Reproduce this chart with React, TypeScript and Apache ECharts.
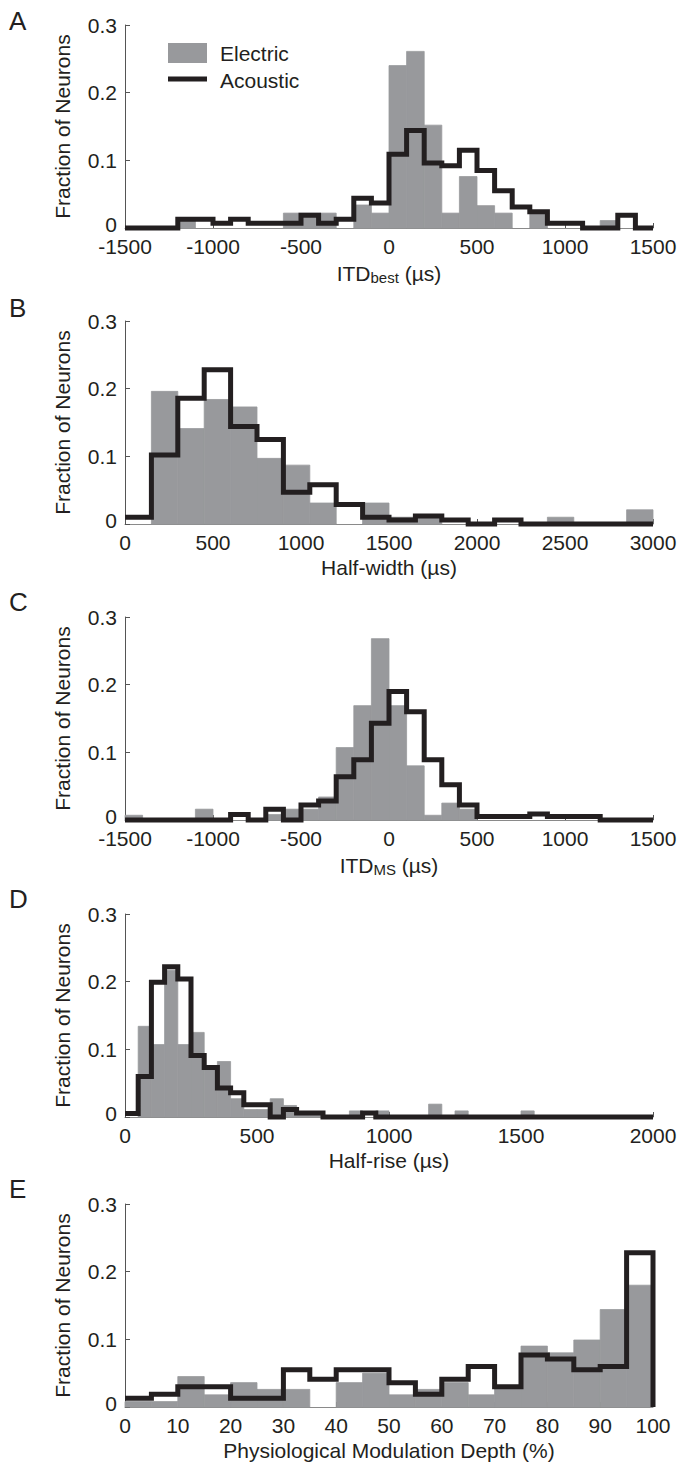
import React, { useEffect, useRef } from "react";
import * as echarts from "echarts";

const FONT = "'Liberation Sans', Arial, Helvetica, sans-serif";
const GRAY = "#98999c";
const BLACK = "#231f20";
const AXIS = "#555555";

// ---- data (fraction of neurons per bin) ----
// A: ITD_best, bins of 100 µs from -1500
const electricA = [0, 0, 0, 0.011, 0, 0, 0, 0, 0, 0.022, 0.022, 0.022, 0, 0.034, 0.022, 0.24, 0.261, 0.152, 0.022, 0.076, 0.033, 0.022, 0, 0.022, 0, 0, 0, 0.011, 0, 0];
const acousticA = [0, 0, 0, 0.013, 0.013, 0.007, 0.013, 0.007, 0.007, 0.007, 0.019, 0.007, 0.013, 0.044, 0.037, 0.109, 0.144, 0.096, 0.092, 0.115, 0.085, 0.055, 0.031, 0.024, 0.007, 0.007, 0, 0, 0.019, 0];
// B: Half-width, bins of 150 µs from 0
const electricB = [0, 0.196, 0.141, 0.184, 0.173, 0.097, 0.087, 0.031, 0, 0.031, 0.01, 0.01, 0, 0, 0, 0, 0.01, 0, 0, 0.021];
const acousticB = [0.01, 0.102, 0.186, 0.228, 0.144, 0.125, 0.047, 0.058, 0.029, 0.01, 0.006, 0.012, 0.006, 0, 0.006, 0, 0, 0, 0, 0];
// C: ITD_MS, bins of 100 µs from -1500
const electricC = [0.007, 0, 0, 0, 0.016, 0, 0, 0, 0.008, 0.016, 0.016, 0.034, 0.107, 0.169, 0.268, 0.169, 0.08, 0.007, 0.025, 0.016, 0, 0, 0, 0, 0, 0, 0, 0, 0, 0];
const acousticC = [0, 0, 0, 0, 0, 0, 0.008, 0, 0.016, 0, 0.022, 0.028, 0.064, 0.089, 0.143, 0.19, 0.16, 0.089, 0.052, 0.022, 0.005, 0.005, 0.005, 0.009, 0.005, 0.005, 0.005, 0, 0, 0];
// D: Half-rise, bins of 50 µs from 0
const electricD = [0, 0.134, 0.107, 0.217, 0.107, 0.125, 0.07, 0.082, 0.027, 0.011, 0.011, 0.027, 0.017, 0.005, 0.005, 0, 0, 0.009, 0, 0.009, 0, 0, 0, 0.019, 0, 0.009, 0, 0, 0, 0, 0.009, 0, 0, 0, 0, 0, 0, 0, 0, 0];
const acousticD = [0.005, 0.06, 0.199, 0.222, 0.204, 0.091, 0.073, 0.043, 0.036, 0.018, 0.018, 0, 0.011, 0.006, 0.006, 0, 0, 0, 0.006, 0, 0, 0, 0, 0, 0, 0, 0, 0, 0, 0, 0, 0, 0, 0, 0, 0, 0, 0, 0, 0];
// E: Physiological modulation depth, bins of 5 % from 0
const electricE = [0.008, 0.008, 0.045, 0.018, 0.036, 0.026, 0.026, 0, 0.036, 0.05, 0.018, 0.026, 0.036, 0.018, 0.03, 0.09, 0.08, 0.099, 0.144, 0.18];
const acousticE = [0.013, 0.019, 0.03, 0.03, 0.013, 0.013, 0.055, 0.041, 0.055, 0.055, 0.036, 0.019, 0.041, 0.06, 0.03, 0.077, 0.071, 0.055, 0.06, 0.228];

const electricSets = [electricA, electricB, electricC, electricD, electricE];
const acousticSets = [acousticA, acousticB, acousticC, acousticD, acousticE];
const panelLetters = ["A", "B", "C", "D", "E"];
const xMins = [-1500, 0, -1500, 0, 0];
const xMaxs = [1500, 3000, 1500, 2000, 100];
const xIntervals = [500, 500, 500, 500, 10];
const binWidths = [100, 150, 100, 50, 5];
const xNames = [
  "{n|ITD}{s|best}{n| (µs)}",
  "Half-width (µs)",
  "{n|ITD}{s|MS}{n| (µs)}",
  "Half-rise (µs)",
  "Physiological Modulation Depth (%)",
];
const yTicks = [0, 0.1, 0.2, 0.3];
const yLabel = "Fraction of Neurons";

// ---- layout ----
const GRID_LEFT = 125;
const GRID_WIDTH = 528;
const GRID_HEIGHT = 203;
const gridTops = [25, 321, 617, 914, 1204];
const letterY = [21, 308, 602, 899, 1189];

function buildOption() {
  const grids: any[] = [];
  const xAxes: any[] = [];
  const yAxes: any[] = [];
  const series: any[] = [];
  const graphics: any[] = [];

  for (let i = 0; i < 5; i++) {
    grids.push({ left: GRID_LEFT, top: gridTops[i], width: GRID_WIDTH, height: GRID_HEIGHT, containLabel: false });
    xAxes.push({
      gridIndex: i,
      type: "value",
      min: xMins[i],
      max: xMaxs[i],
      interval: xIntervals[i],
      name: xNames[i],
      nameLocation: "middle",
      nameGap: 33,
      nameTextStyle: {
        fontSize: 21,
        color: BLACK,
        fontFamily: FONT,
        rich: {
          n: { fontSize: 21, color: BLACK, fontFamily: FONT },
          s: { fontSize: 15, color: BLACK, fontFamily: FONT, padding: [9, 0, 0, 0] },
        },
      },
      axisLine: { show: true, onZero: false, lineStyle: { color: "#8a8a8a", width: 1 } },
      axisTick: { show: true, inside: true, length: 5, lineStyle: { color: AXIS } },
      axisLabel: {
        fontSize: 21,
        lineHeight: 17,
        color: BLACK,
        fontFamily: FONT,
        margin: 10,
        formatter: (v: number) => String(v),
      },
      splitLine: { show: false },
    });
    yAxes.push({
      gridIndex: i,
      type: "value",
      min: yTicks[0],
      max: yTicks[yTicks.length - 1],
      interval: 0.1,
      name: yLabel,
      nameLocation: "middle",
      nameGap: 52,
      nameTextStyle: { fontSize: 21, color: BLACK, fontFamily: FONT },
      axisLine: { show: true, onZero: false, lineStyle: { color: AXIS, width: 1 } },
      axisTick: { show: true, inside: true, length: 5, lineStyle: { color: AXIS } },
      axisLabel: {
        fontSize: 21,
        lineHeight: 17,
        color: BLACK,
        fontFamily: FONT,
        margin: 8,
        formatter: (v: number) => (v === 0 ? "{z|0}" : v.toFixed(1)),
        rich: {
          z: { fontSize: 21, lineHeight: 17, color: BLACK, fontFamily: FONT, padding: [0, 0, 7, 0] },
        },
      },
      splitLine: { show: false },
    });

    const w = binWidths[i];
    const start = xMins[i];
    const el = electricSets[i];
    const ac = acousticSets[i];
    const barData = el.map((v, k) => [start + k * w, start + (k + 1) * w, v]);
    series.push({
      type: "custom",
      name: "Electric",
      xAxisIndex: i,
      yAxisIndex: i,
      z: 2,
      encode: { x: [0, 1], y: 2 },
      data: barData,
      renderItem: (params: any, api: any) => {
        const v = api.value(2);
        if (!v) return null;
        const p0 = api.coord([api.value(0), v]);
        const p1 = api.coord([api.value(1), 0]);
        return {
          type: "rect",
          shape: { x: p0[0], y: p0[1], width: p1[0] - p0[0], height: p1[1] - p0[1] },
          style: { fill: GRAY, stroke: GRAY, lineWidth: 0.8 },
        };
      },
    });

    const pts: number[][] = ac.map((v, k) => [start + k * w, v]);
    const endX = start + ac.length * w;
    pts.push([endX, ac[ac.length - 1]]);
    pts.push([endX, 0]);
    series.push({
      type: "line",
      name: "Acoustic",
      xAxisIndex: i,
      yAxisIndex: i,
      z: 3,
      step: "end",
      symbol: "none",
      clip: false,
      data: pts,
      lineStyle: { color: BLACK, width: 5, join: "miter", cap: "butt" },
    });

    graphics.push({
      type: "text",
      left: 9,
      top: letterY[i] - 13,
      style: { text: panelLetters[i], fontSize: 26, fill: BLACK, fontFamily: FONT },
    });
  }

  // legend (panel A)
  graphics.push({ type: "rect", shape: { x: 168, y: 43, width: 39, height: 20 }, style: { fill: GRAY } });
  graphics.push({
    type: "text",
    x: 220,
    y: 53,
    style: { text: "Electric", fontSize: 21, fill: BLACK, fontFamily: FONT, verticalAlign: "middle", align: "left" },
  });
  graphics.push({
    type: "line",
    shape: { x1: 168, y1: 79, x2: 207, y2: 79 },
    style: { stroke: BLACK, lineWidth: 5 },
  });
  graphics.push({
    type: "text",
    x: 220,
    y: 80,
    style: { text: "Acoustic", fontSize: 21, fill: BLACK, fontFamily: FONT, verticalAlign: "middle", align: "left" },
  });

  return {
    animation: false,
    backgroundColor: "#ffffff",
    grid: grids,
    xAxis: xAxes,
    yAxis: yAxes,
    series,
    graphic: graphics,
  };
}

export default function App() {
  const ref = useRef<HTMLDivElement>(null);
  useEffect(() => {
    if (!ref.current) return;
    const chart = echarts.init(ref.current, undefined, { renderer: "svg" });
    chart.setOption(buildOption() as any);
    return () => chart.dispose();
  }, []);
  return (
    <div
      ref={ref}
      style={{ position: "absolute", left: 0, top: 0, width: 686, height: 1477, background: "#fff" }}
    />
  );
}
